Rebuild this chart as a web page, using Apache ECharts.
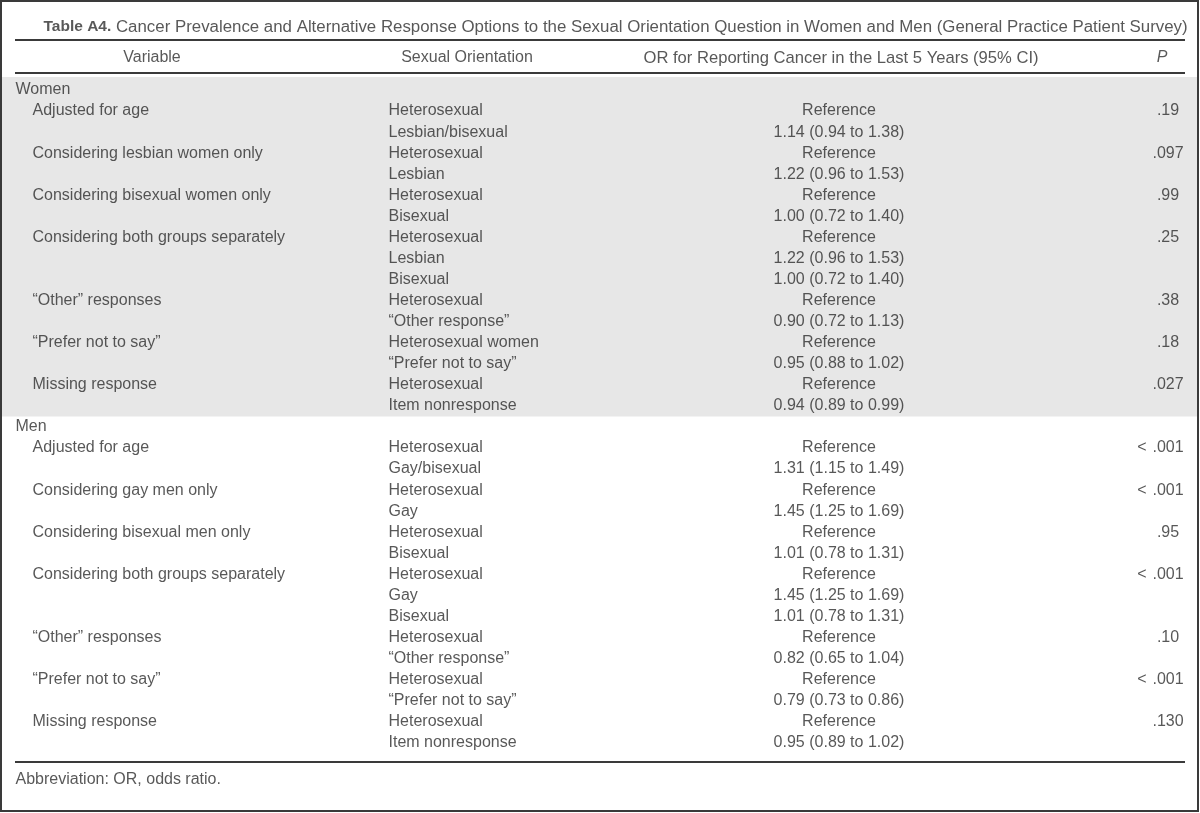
<!DOCTYPE html>
<html>
<head>
<meta charset="utf-8">
<style>html,body{margin:0;padding:0;background:#fff}#chart{width:1200px;height:813px}</style>
<script src="https://cdn.jsdelivr.net/npm/echarts@6/dist/echarts.min.js"></script>
</head>
<body>
<div id="chart"></div>
<script>
// ---------- data ----------
const titleBold = 'Table A4.';
const titleText = 'Cancer Prevalence and Alternative Response Options to the Sexual Orientation Question in Women and Men (General Practice Patient Survey)';
const headers = ['Variable', 'Sexual Orientation', 'OR for Reporting Cancer in the Last 5 Years (95% CI)', 'P'];
const groups = ['Women', 'Men'];

const womenVariable = ['Adjusted for age', '', 'Considering lesbian women only', '', 'Considering bisexual women only', '', 'Considering both groups separately', '', '', '\u201cOther\u201d responses', '', '\u201cPrefer not to say\u201d', '', 'Missing response', ''];
const womenOrientation = ['Heterosexual', 'Lesbian/bisexual', 'Heterosexual', 'Lesbian', 'Heterosexual', 'Bisexual', 'Heterosexual', 'Lesbian', 'Bisexual', 'Heterosexual', '\u201cOther response\u201d', 'Heterosexual women', '\u201cPrefer not to say\u201d', 'Heterosexual', 'Item nonresponse'];
const womenOR = ['Reference', '1.14 (0.94 to 1.38)', 'Reference', '1.22 (0.96 to 1.53)', 'Reference', '1.00 (0.72 to 1.40)', 'Reference', '1.22 (0.96 to 1.53)', '1.00 (0.72 to 1.40)', 'Reference', '0.90 (0.72 to 1.13)', 'Reference', '0.95 (0.88 to 1.02)', 'Reference', '0.94 (0.89 to 0.99)'];
const womenP = ['.19', '', '.097', '', '.99', '', '.25', '', '', '.38', '', '.18', '', '.027', ''];

const menVariable = ['Adjusted for age', '', 'Considering gay men only', '', 'Considering bisexual men only', '', 'Considering both groups separately', '', '', '\u201cOther\u201d responses', '', '\u201cPrefer not to say\u201d', '', 'Missing response', ''];
const menOrientation = ['Heterosexual', 'Gay/bisexual', 'Heterosexual', 'Gay', 'Heterosexual', 'Bisexual', 'Heterosexual', 'Gay', 'Bisexual', 'Heterosexual', '\u201cOther response\u201d', 'Heterosexual', '\u201cPrefer not to say\u201d', 'Heterosexual', 'Item nonresponse'];
const menOR = ['Reference', '1.31 (1.15 to 1.49)', 'Reference', '1.45 (1.25 to 1.69)', 'Reference', '1.01 (0.78 to 1.31)', 'Reference', '1.45 (1.25 to 1.69)', '1.01 (0.78 to 1.31)', 'Reference', '0.82 (0.65 to 1.04)', 'Reference', '0.79 (0.73 to 0.86)', 'Reference', '0.95 (0.89 to 1.02)'];
const menP = ['< .001', '', '< .001', '', '.95', '', '< .001', '', '', '.10', '', '< .001', '', '.130', ''];

const footnote = 'Abbreviation: OR, odds ratio.';

// ---------- layout ----------
const ROW0 = 90, ROW_H = 21.06;          // pixel centre of first body row, row pitch
const GRID = {left: 1, top: 1, width: 1197, height: 810};
const rowOf = px => (px - ROW0) / ROW_H;
const COL = {group: 15, variable: 32, orient: 388, or: 839, p: 1168, pPrefix: 1147,
             hVar: 152, hOrient: 467, hOr: 841, hP: 1162, title: 43, foot: 15,
             lineL: 15, lineR: 1185};
const FONT = 'Liberation Sans, Arial, sans-serif';
const FS = 16;
const TXT = '#2e2e2e';

const tables = [
  {v: womenVariable, o: womenOrientation, r: womenOR, p: womenP},
  {v: menVariable, o: menOrientation, r: menOR, p: menP}
];

const groupData = [], varData = [], orientData = [], orData = [], pData = [], pPreData = [];
let row = 0;
const bodyStart = [], bodyEnd = [];
tables.forEach((t, g) => {
  bodyStart.push(row);
  groupData.push({name: groups[g], value: [COL.group, row]});
  row++;
  t.v.forEach((_, i) => {
    if (t.v[i]) varData.push({name: t.v[i], value: [COL.variable, row]});
    if (t.o[i]) orientData.push({name: t.o[i], value: [COL.orient, row]});
    if (t.r[i]) orData.push({name: t.r[i], value: [COL.or, row]});
    if (t.p[i]) {
      const m = t.p[i].match(/^(<)\s*(.*)$/);
      if (m) {
        pPreData.push({name: m[1], value: [COL.pPrefix, row]});
        pData.push({name: m[2], value: [COL.p, row]});
      } else {
        pData.push({name: t.p[i], value: [COL.p, row]});
      }
    }
    row++;
  });
  bodyEnd.push(row - 1);
});

const headerRow = rowOf(58);
const headerData = [
  {name: headers[0], value: [COL.hVar, headerRow]},
  {name: headers[1], value: [COL.hOrient, headerRow]},
  {name: headers[2], value: [COL.hOr, headerRow], label: {fontSize: 16.6}},
  {name: headers[3], value: [COL.hP, headerRow], label: {fontStyle: 'italic'}}
];

function textSeries(name, data, align, extra) {
  const pos = align === 'left' ? 'right' : align === 'right' ? 'left' : 'inside';
  return Object.assign({
    type: 'scatter', name, data, symbolSize: 1,
    itemStyle: {color: 'rgba(0,0,0,0)'},
    silent: true, z: 5,
    label: {show: true, position: pos, distance: 0, formatter: '{b}',
            color: TXT, fontFamily: FONT, fontSize: FS, verticalAlign: 'middle', align: align}
  }, extra || {});
}

const hLine = (px) => [{coord: [COL.lineL, rowOf(px)]}, {coord: [COL.lineR, rowOf(px)]}];

const option = {
  animation: false,
  backgroundColor: '#fff',
  grid: Object.assign({show: true, borderWidth: 2, borderColor: '#3a3a3a', backgroundColor: '#fff'}, GRID),
  xAxis: {type: 'value', min: GRID.left, max: GRID.left + GRID.width, show: false},
  yAxis: {type: 'value', inverse: true, min: rowOf(GRID.top), max: rowOf(GRID.top + GRID.height), show: false},
  series: [
    textSeries('group', groupData, 'left', {
      markArea: {silent: true, itemStyle: {color: '#e7e7e7'},
        data: [[{coord: [2, rowOf(77)]}, {coord: [1197, bodyEnd[0] + 0.5]}]]},
      markLine: {silent: true, symbol: 'none', label: {show: false},
        lineStyle: {color: '#3a3a3a', width: 1.8, type: 'solid'},
        data: [hLine(39.5), hLine(73), hLine(762)]}
    }),
    textSeries('variable', varData, 'left'),
    textSeries('orientation', orientData, 'left'),
    textSeries('or', orData, 'center'),
    textSeries('p', pData, 'center'),
    textSeries('pPrefix', pPreData, 'right'),
    textSeries('header', headerData, 'center'),
    textSeries('title', [{name: 'title', value: [COL.title, rowOf(27)]}], 'left', {
      label: {show: true, position: 'right', distance: 0, verticalAlign: 'middle', align: 'left',
        formatter: '{b|' + titleBold + '}{r| ' + titleText + '}',
        rich: {b: {fontWeight: 'bold', fontFamily: FONT, fontSize: 15.5, color: TXT},
               r: {fontFamily: FONT, fontSize: 16.85, color: TXT}}}
    }),
    textSeries('footnote', [{name: footnote, value: [COL.foot, rowOf(780)]}], 'left')
  ]
};

const chart = echarts.init(document.getElementById('chart'), null, {renderer: 'canvas'});
chart.setOption(option);
</script>
</body>
</html>
